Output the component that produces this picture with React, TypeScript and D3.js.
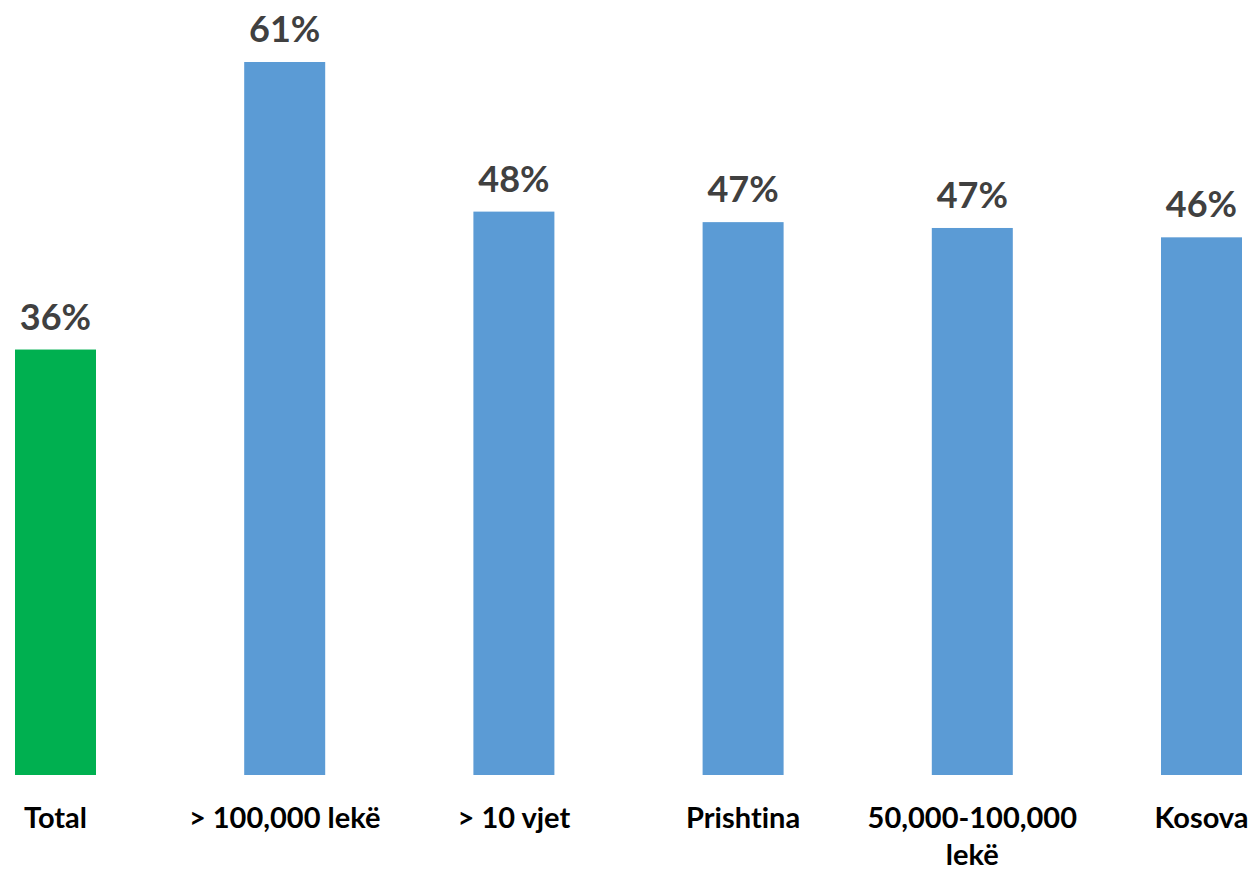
import React, { useEffect, useRef } from 'react';
import * as d3 from 'd3';

const categories = ['Total', '> 100,000 lekë', '> 10 vjet', 'Prishtina', '50,000-100,000 lekë', 'Kosova'];
const values = [36.4, 61.0, 48.2, 47.3, 46.8, 46.0];
const highlight = ['Total'];

const W = 1256;
const H = 871;

const App: React.FC = () => {
  const svgRef = useRef<SVGSVGElement>(null);

  useEffect(() => {
    document.body.style.margin = '0';
    if (!svgRef.current) return;

    const svg = d3.select(svgRef.current);
    svg.selectAll('*').remove();

    const baseline = 775;
    const barW = 81;

    const x = d3.scalePoint<string>().domain(categories).range([55.5, 1201.5]);
    const y = d3.scaleLinear().domain([0, 61]).range([baseline, 62]);

    const g = svg.append('g')
      .style('font-variant-ligatures', 'none');

    g.selectAll('rect.bar')
      .data(categories)
      .join('rect')
      .attr('class', 'bar')
      .attr('x', d => (x(d) as number) - barW / 2)
      .attr('width', barW)
      .attr('y', (_, i) => y(values[i]))
      .attr('height', (_, i) => baseline - y(values[i]))
      .attr('fill', d => (highlight.includes(d) ? '#00B050' : '#5B9BD5'));

    // value labels
    g.selectAll('text.val')
      .data(categories)
      .join('text')
      .attr('class', 'val')
      .attr('x', d => x(d) as number)
      .attr('y', (_, i) => y(values[i]) - 20)
      .attr('text-anchor', 'middle')
      .attr('font-family', 'Lato, sans-serif')
      .attr('font-weight', 700)
      .attr('font-size', 36)
      .attr('fill', '#404040')
      .text((_, i) => `${Math.round(values[i])}%`);

    // category labels (wrap long ones onto two lines)
    const cats = g.selectAll('text.cat')
      .data(categories)
      .join('text')
      .attr('class', 'cat')
      .attr('text-anchor', 'middle')
      .attr('font-family', 'Lato, sans-serif')
      .attr('font-weight', 700)
      .attr('font-size', 29)
      .attr('fill', '#000');

    cats.each(function (d) {
      const t = d3.select(this);
      const lines = d.length > 16 ? [d.slice(0, d.lastIndexOf(' ')), d.slice(d.lastIndexOf(' ') + 1)] : [d];
      lines.forEach((line, i) => {
        t.append('tspan')
          .attr('x', x(d) as number)
          .attr('y', 828 + i * 37)
          .text(line);
      });
    });
  }, []);

  return <svg ref={svgRef} width={W} height={H} style={{ display: 'block', background: '#fff' }} />;
};

export default App;
